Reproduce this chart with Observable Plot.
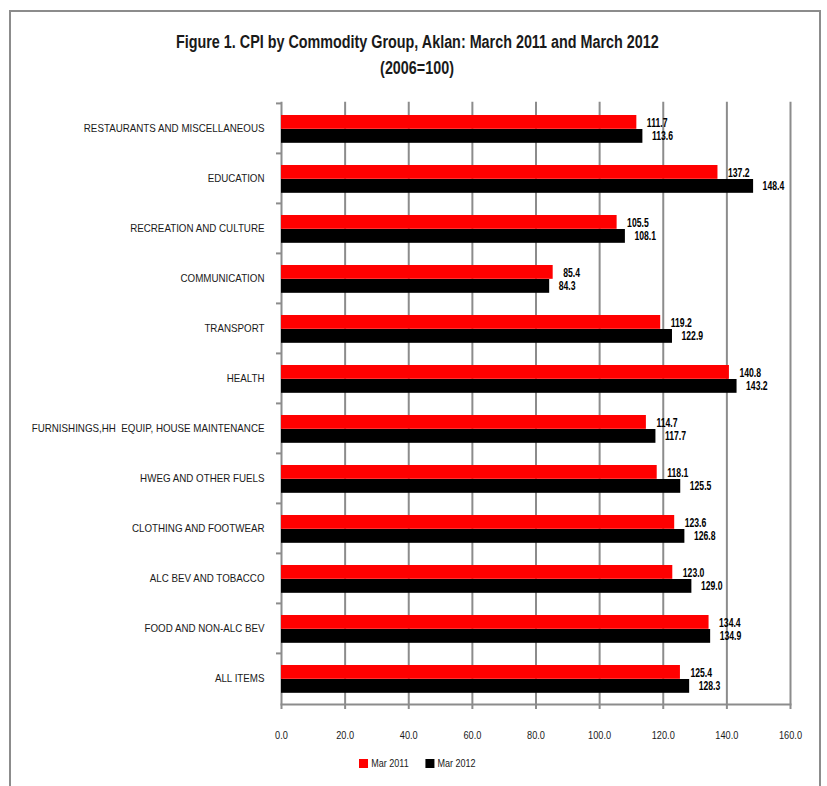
<!DOCTYPE html>
<html>
<head>
<meta charset="utf-8">
<script src="https://cdn.jsdelivr.net/npm/d3@7"></script>
<script src="https://cdn.jsdelivr.net/npm/@observablehq/plot@0.6"></script>
<style>
  html, body { margin: 0; padding: 0; background: #fff; }
  #wrap { position: relative; width: 827px; height: 786px; overflow: hidden; background: #fff;
          font-family: "Liberation Sans", Arial, sans-serif; color: #1a1a1a; }
  #border { position: absolute; left: 9px; top: 10px; width: 812px; height: 800px; border: 2px solid #8c8c8c; box-sizing: border-box; }
  #title { position: absolute; left: 0; width: 834px; top: 29px; text-align: center; font-weight: bold; font-size: 17.5px; line-height: 26px; }
  #title span { display: inline-block; transform: scaleX(0.82); transform-origin: center; white-space: nowrap; }
  #chart { position: absolute; left: 0; top: 90px; }
  #legend { position: absolute; top: 757px; left: 359px; font-size: 11px; display: flex; align-items: center;
            transform: scaleX(0.82); transform-origin: left center; white-space: nowrap; }
  .sw { display: inline-block; width: 11px; height: 9px; margin-right: 4px; }
  .item { display: flex; align-items: center; margin-right: 20px; }
</style>
</head>
<body>
<div id="wrap">
  <div id="border"></div>
  <div id="title"><span>Figure 1. CPI by Commodity Group, Aklan: March 2011 and March 2012</span><br><span>(2006=100)</span></div>
  <div id="chart"></div>
  <div id="legend"></div>
</div>
<script>
const categories = [
  "RESTAURANTS AND MISCELLANEOUS",
  "EDUCATION",
  "RECREATION AND CULTURE",
  "COMMUNICATION",
  "TRANSPORT",
  "HEALTH",
  "FURNISHINGS,HH  EQUIP, HOUSE MAINTENANCE",
  "HWEG AND OTHER FUELS",
  "CLOTHING AND FOOTWEAR",
  "ALC BEV AND TOBACCO",
  "FOOD AND NON-ALC BEV",
  "ALL ITEMS"
];
const mar2011 = [111.7, 137.2, 105.5, 85.4, 119.2, 140.8, 114.7, 118.1, 123.6, 123.0, 134.4, 125.4];
const mar2012 = [113.6, 148.4, 108.1, 84.3, 122.9, 143.2, 117.7, 125.5, 126.8, 129.0, 134.9, 128.3];
const seriesNames = ["Mar 2011", "Mar 2012"];
const seriesColors = ["#ff0000", "#000000"];
const xTicks = [0, 20, 40, 60, 80, 100, 120, 140, 160];

const rows2011 = categories.map((c, i) => ({category: c, series: seriesNames[0], value: mar2011[i]}));
const rows2012 = categories.map((c, i) => ({category: c, series: seriesNames[1], value: mar2012[i]}));

const W = 827, H = 659, mT = 11.7, mB = 45, mL = 281, mR = 37;
const band = (H - mT - mB) / categories.length;
const gridColor = "#8c8c8c";
const fmt = d3.format(".1f");

const chart = Plot.plot({
  width: W, height: H,
  marginTop: mT, marginBottom: mB, marginLeft: mL, marginRight: mR,
  style: {fontFamily: '"Liberation Sans", Arial, sans-serif', fontSize: "11px", color: "#1a1a1a", background: "transparent"},
  x: {domain: [0, 160]},
  y: {domain: categories, padding: 0},
  marks: [
    Plot.gridX(xTicks, {stroke: gridColor, strokeOpacity: 1, strokeWidth: 2}),
    Plot.barX(rows2011, {x: "value", y: "category", fill: seriesColors[0], insetTop: 12, insetBottom: band - 26}),
    Plot.barX(rows2012, {x: "value", y: "category", fill: seriesColors[1], insetTop: 26, insetBottom: band - 40}),
    Plot.text(rows2011, {x: "value", y: "category", text: d => fmt(d.value), textAnchor: "start", dx: 10, dy: -5, fontWeight: "bold", fontSize: 12, fill: "#000", className: "vlab"}),
    Plot.text(rows2012, {x: "value", y: "category", text: d => fmt(d.value), textAnchor: "start", dx: 9, dy: 7.5, fontWeight: "bold", fontSize: 12, fill: "#000", className: "vlab"}),
    Plot.frame({anchor: "bottom", stroke: gridColor, strokeWidth: 2}),
    Plot.axisX({ticks: xTicks, tickFormat: fmt, tickSize: 5, tickPadding: 21, stroke: gridColor, strokeWidth: 2, fill: "#1a1a1a", label: null, fontSize: 11.5}),
    Plot.axisY({tickSize: 0, tickPadding: 17, fill: "#1a1a1a", label: null, className: "ylab", fontSize: 11.5}),
    Plot.axisY({tickSize: 5, text: null, dy: -band / 2, stroke: gridColor, strokeWidth: 2, label: null})
  ]
});
document.getElementById("chart").appendChild(chart);

// emulate a narrow typeface by compressing glyphs horizontally
function squeeze(sel, k) {
  chart.querySelectorAll(sel).forEach(t => {
    const len = t.getComputedTextLength();
    if (len > 0) {
      t.setAttribute("textLength", (len * k).toFixed(2));
      t.setAttribute("lengthAdjust", "spacingAndGlyphs");
    }
  });
}
squeeze(".ylab text", 0.85);
squeeze(".vlab text", 0.72);
squeeze('g[aria-label="x-axis tick label"] text', 0.8);

const legend = document.getElementById("legend");
seriesNames.forEach((s, i) => {
  const it = document.createElement("span");
  it.className = "item";
  it.innerHTML = `<span class="sw" style="background:${seriesColors[i]}"></span>${s}`;
  legend.appendChild(it);
});
</script>
</body>
</html>
